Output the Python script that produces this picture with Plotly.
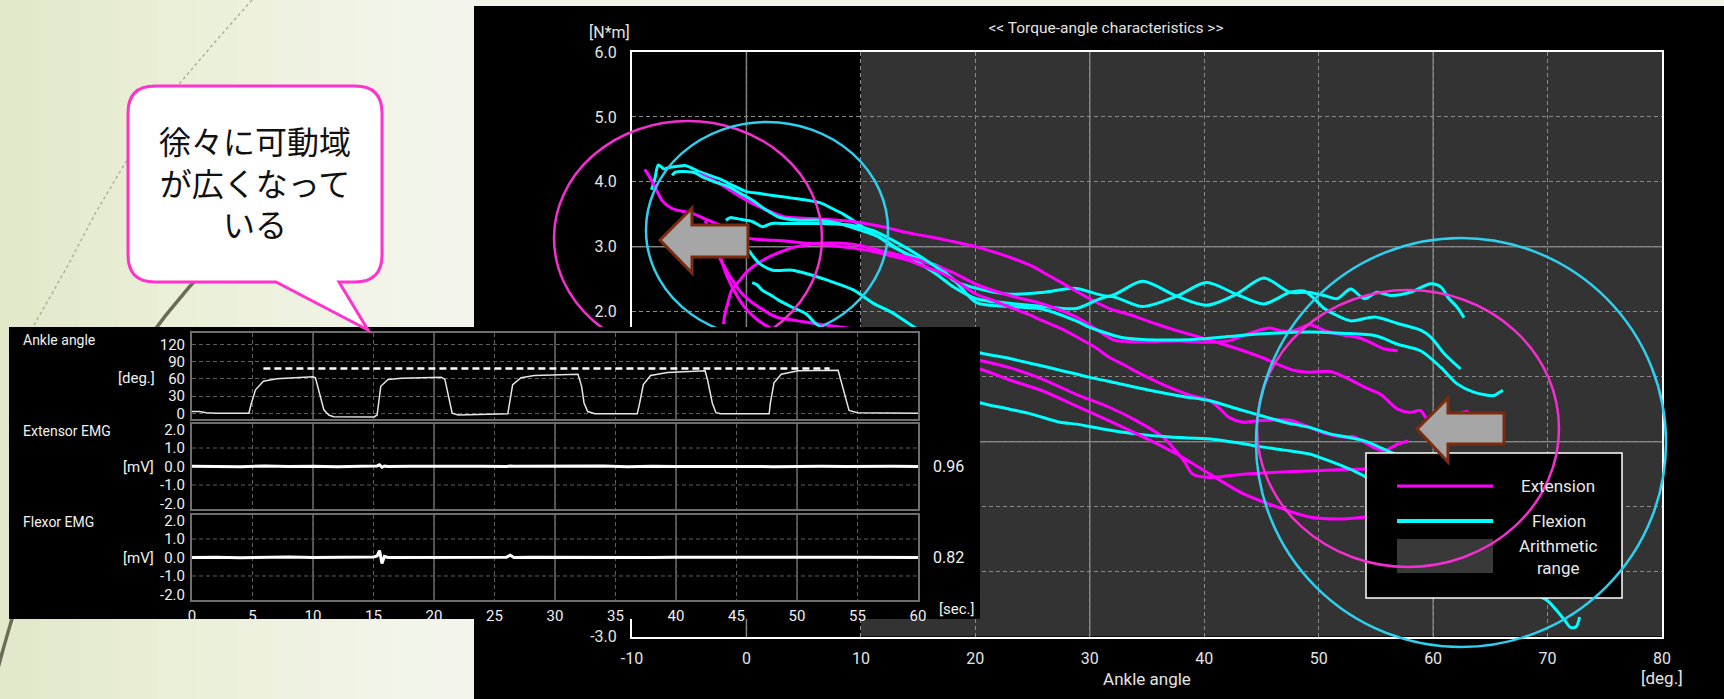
import plotly.graph_objects as go

W, H = 1724, 699

# ---------------- Torque-angle characteristics (main chart) ----------------
x_ticks = [-10, 0, 10, 20, 30, 40, 50, 60, 70, 80]
x_tick_text = ["-10", "0", "10", "20", "30", "40", "50", "60", "70", "80"]
y_ticks = [-3, -2, -1, 0, 1, 2, 3, 4, 5, 6]
y_tick_text = ["-3.0", "-2.0", "-1.0", "0.0", "1.0", "2.0", "3.0", "4.0", "5.0", "6.0"]
arith_range = [10, 80]          # shaded "Arithmetic range" of the ankle angle

# Extension (magenta) trials
ext1_angle = [-4.2, -3.3, -2.4, -1.0, 0.5, 2.0, 3.4, 5.0, 6.3, 8.0,
              9.3, 11.0, 12.2, 14.0, 15.2, 17.0, 18.1, 20.1, 22.0, 23.0,
              25.0, 26.5, 28.0, 30.0, 31.7, 33.6, 34.7, 36.0, 37.6, 39.0,
              40.5, 42.0, 43.4, 45.0, 46.3, 47.8, 49.2, 51.0, 52.2, 54.0,
              55.4, 56.9, 58.0, 58.9, 59.5, 61.0, 63.1]
ext1_torque = [4.13, 4.06, 3.98, 3.82, 3.67, 3.55, 3.46, 3.44, 3.43, 3.41,
               3.39, 3.34, 3.30, 3.22, 3.18, 3.12, 3.08, 3.00, 2.90, 2.84,
               2.70, 2.55, 2.40, 2.20, 2.05, 1.95, 1.88, 1.80, 1.71, 1.64,
               1.56, 1.48, 1.40, 1.30, 1.20, 1.10, 1.07, 1.08, 1.00, 0.84,
               0.73, 0.50, 0.45, 0.48, 0.35, 0.40, 0.47]

ext2_angle = [-2.0, -1.9, -1.6, -1.3, -0.6, -0.1, 0.6, 1.4, 2.4, 3.4,
              4.3, 5.2, 7.0, 9.3, 12.2, 15.2, 18.1, 20.1, 23.0, 25.9,
              28.8, 30.3, 32.2, 34.9, 37.8, 40.5, 42.3, 43.4, 44.5, 45.7,
              46.9, 48.0, 49.2, 50.7, 52.2, 53.5, 54.5, 55.7, 56.9]
ext2_torque = [1.81, 1.95, 2.15, 2.33, 2.48, 2.59, 2.70, 2.79, 2.88, 2.95,
               3.00, 3.03, 3.06, 3.04, 2.92, 2.79, 2.60, 2.42, 2.25, 2.12,
               1.92, 1.76, 1.56, 1.54, 1.55, 1.53, 1.56, 1.63, 1.70, 1.75,
               1.70, 1.72, 1.80, 1.70, 1.64, 1.60, 1.53, 1.43, 1.40]

ext3_angle = [-8.9, -8.6, -8.3, -8.0, -7.4, -6.5, -5.4, -4.5, -3.75, -2.5,
              -1.0, 0.2, 1.5, 3.4, 5.0, 6.3, 8.0, 9.3, 11.0, 12.2,
              14.0, 15.2, 17.0, 18.1, 20.1, 21.5, 23.0, 24.5, 25.9, 27.5,
              29.0, 30.5, 31.7, 33.0, 34.7, 36.4, 38.7, 40.5, 41.4, 42.2,
              43.4, 44.5, 45.7, 47.5, 49.2, 50.7, 52.2, 53.0, 54.0, 54.8,
              55.7, 56.9, 57.8]
ext3_torque = [4.19, 4.12, 4.02, 3.93, 3.72, 3.59, 3.54, 3.50, 3.44, 3.35,
               3.22, 3.13, 3.11, 3.09, 3.06, 3.04, 3.01, 2.98, 2.93, 2.88,
               2.80, 2.72, 2.60, 2.50, 2.27, 2.18, 2.07, 1.97, 1.86, 1.74,
               1.60, 1.45, 1.30, 1.18, 1.02, 0.88, 0.72, 0.63, 0.50, 0.37,
               0.30, 0.32, 0.33, 0.33, 0.22, 0.12, 0.07, 0.08, -0.01, -0.09,
               -0.14, -0.04, 0.01]

ext4_angle = [-3.6, -3.0, -2.4, -2.0, -1.6, -1.0, -0.4, 0.3, 1.1, 2.6,
              4.5, 6.4, 8.0, 9.9, 12.0, 14.0, 16.0, 18.0, 20.4, 23.0,
              25.9, 28.8, 31.7, 34.1, 36.4, 38.2, 39.0, 40.5, 43.4, 46.3,
              49.2, 52.2, 55.1, 58.0, 60.0]
ext4_torque = [3.40, 3.15, 2.85, 2.72, 2.59, 2.43, 2.28, 2.17, 2.07, 1.92,
               1.86, 1.81, 1.77, 1.72, 1.62, 1.52, 1.42, 1.33, 1.25, 1.14,
               0.96, 0.73, 0.53, 0.32, 0.07, -0.29, -0.50, -0.55, -0.50, -0.47,
               -0.45, -0.43, -0.42, -0.40, -0.38]

ext5_angle = [-3.0, -2.6, -2.2, -1.7, -1.0, -0.2, 0.8, 2.0, 4.0, 7.0,
              10.0, 13.0, 16.0, 18.5, 20.4, 23.0, 25.9, 28.8, 31.7, 34.7,
              37.6, 40.5, 43.4, 46.3, 49.2, 52.2, 54.2, 57.0, 60.0, 62.0]
ext5_torque = [3.30, 3.05, 2.80, 2.55, 2.30, 2.08, 1.90, 1.76, 1.64, 1.52,
               1.43, 1.34, 1.25, 1.18, 1.12, 0.95, 0.78, 0.55, 0.32, 0.07,
               -0.19, -0.50, -0.80, -1.00, -1.16, -1.19, -1.16, -1.14, -1.12, -1.10]

# Flexion (cyan) trials
flex1_angle = [-8.3, -8.0, -7.7, -7.2, -6.8, -6.0, -5.3, -4.0, -2.4, -1.0,
               0.0, 1.2, 2.3, 4.0, 5.2, 6.4, 7.5, 8.5, 9.3, 10.2,
               11.1, 12.0, 12.8, 13.7, 14.6, 15.5, 16.9, 18.1, 20.1, 23.0,
               26.0, 28.8, 31.7, 34.6, 37.6, 40.2, 42.8, 45.2, 47.5, 49.0,
               50.5, 51.6, 52.8, 54.0, 55.1, 56.3, 58.0, 59.8, 60.7, 61.3,
               62.1, 62.7]
flex1_torque = [3.88, 4.05, 4.26, 4.20, 4.22, 4.24, 4.25, 4.15, 4.05, 3.93,
                3.85, 3.82, 3.79, 3.75, 3.72, 3.68, 3.59, 3.50, 3.41, 3.30,
                3.20, 3.10, 3.00, 2.92, 2.85, 2.78, 2.69, 2.48, 2.36, 2.27,
                2.30, 2.36, 2.24, 2.47, 2.24, 2.10, 2.27, 2.52, 2.30, 2.30,
                2.25, 2.20, 2.35, 2.20, 2.30, 2.25, 2.30, 2.43, 2.38, 2.22,
                2.07, 1.91]

flex2_angle = [-6.5, -6.2, -5.5, -4.5, -3.9, -2.8, -1.6, -0.5, 0.5, 1.7,
               2.8, 4.6, 6.4, 8.1, 9.9, 11.6, 13.4, 15.2, 16.9, 18.1,
               20.1, 23.0, 26.0, 28.8, 31.7, 34.6, 37.6, 40.2, 42.8, 45.2,
               47.5, 48.7, 49.5, 50.5, 51.5, 52.8, 54.9, 56.9, 59.0, 59.8,
               61.0, 62.4]
flex2_torque = [4.10, 4.15, 4.16, 4.14, 4.08, 4.00, 3.93, 3.82, 3.72, 3.57,
                3.46, 3.41, 3.41, 3.36, 3.26, 3.15, 2.95, 2.74, 2.54, 2.38,
                2.20, 2.13, 2.08, 2.05, 2.24, 2.08, 2.24, 2.45, 2.27, 2.12,
                2.30, 2.32, 2.22, 2.05, 1.95, 1.86, 1.92, 1.82, 1.71, 1.61,
                1.35, 1.12]

flex3_angle = [-1.8, -1.4, -1.0, -0.4, 0.5, 1.4, 2.2, 3.0, 4.0, 5.2,
               6.4, 7.8, 9.3, 11.1, 12.8, 14.0, 15.2, 16.9, 18.1, 20.1,
               23.0, 25.9, 28.8, 30.0, 31.5, 32.9, 35.0, 38.7, 41.0, 43.4,
               46.0, 49.2, 52.0, 55.0, 56.9, 58.9, 60.7, 62.1, 63.6, 65.3,
               65.8, 66.1]
flex3_torque = [3.41, 3.45, 3.44, 3.42, 3.39, 3.31, 3.36, 3.36, 3.36, 3.36,
                3.36, 3.35, 3.33, 3.25, 3.10, 2.98, 2.85, 2.65, 2.50, 2.14,
                2.08, 2.04, 1.86, 1.76, 1.67, 1.60, 1.57, 1.57, 1.60, 1.64,
                1.67, 1.69, 1.67, 1.63, 1.50, 1.40, 1.14, 0.89, 0.76, 0.71,
                0.76, 0.79]

flex4_angle = [0.2, 0.6, 1.1, 2.3, 4.0, 5.2, 7.0, 9.3, 11.1, 12.8,
               14.6, 16.5, 18.5, 20.4, 23.0, 25.0, 27.4, 30.0, 31.6, 35.0,
               38.0, 40.5, 43.0, 45.0, 47.0, 49.2, 51.0, 52.8, 54.2, 55.5,
               58.0, 61.0, 64.0]
flex4_torque = [2.95, 2.85, 2.75, 2.64, 2.64, 2.59, 2.49, 2.34, 2.13, 1.98,
                1.77, 1.60, 1.47, 1.37, 1.28, 1.20, 1.10, 0.99, 0.93, 0.80,
                0.70, 0.63, 0.50, 0.40, 0.30, 0.22, 0.12, 0.06, 0.00, -0.10,
                -0.30, -0.55, -0.80]

flex5_angle = [0.5, 0.9, 1.4, 2.1, 2.8, 4.0, 5.2, 6.1, 7.5, 10.0,
               12.5, 15.0, 17.5, 20.4, 23.0, 25.0, 27.4, 28.8, 31.0, 34.0,
               37.0, 40.5, 43.0, 45.0, 47.0, 49.2, 50.5, 52.0, 53.2, 54.2,
               56.0, 60.0, 64.0, 67.0, 69.0, 70.0, 70.8, 71.5, 72.0, 72.5,
               72.8]
flex5_torque = [2.45, 2.42, 2.33, 2.26, 2.18, 2.07, 1.97, 1.81, 1.68, 1.45,
                1.20, 0.98, 0.78, 0.60, 0.50, 0.42, 0.30, 0.27, 0.20, 0.12,
                0.07, 0.04, -0.02, -0.08, -0.13, -0.19, -0.27, -0.37, -0.46, -0.55,
                -0.75, -1.25, -1.75, -2.10, -2.35, -2.45, -2.60, -2.75, -2.86, -2.85,
                -2.70]

# ---------------- Inset: time series ----------------
sec_ticks = [0, 5, 10, 15, 20, 25, 30, 35, 40, 45, 50, 55, 60]
deg_ticks = [0, 30, 60, 90, 120]
mv_ticks = [-2, -1, 0, 1, 2]
mv_tick_text = ["-2.0", "-1.0", "0.0", "1.0", "2.0"]
mv_grid = [-1, 1]

ang_time = [0, 0.6, 1.2, 2.0, 4.7, 4.9, 5.25, 5.9, 7.0, 9.0, 10.0, 10.2, 10.6, 10.9,
            11.3, 11.7, 15.05, 15.3, 15.6, 16.2, 17.3, 20.6, 20.9, 21.3,
            21.5, 22.0, 25.0, 26.1, 26.2, 26.5, 27.2, 28.3, 31.9, 32.2,
            32.4, 32.7, 33.3, 36.8, 37.0, 37.3, 37.9, 39.3, 42.4, 42.6,
            43.0, 43.3, 43.7, 47.7, 47.8, 48.1, 48.7, 50.1, 53.4, 53.6,
            54.1, 54.3, 55.0, 60.0]
ang_deg = [3, 3, 1, 0, 0, 17, 41, 56, 60, 62, 63.5, 62, 29, 6,
           -3, -6, -6.5, -3, 47, 59, 61, 63, 59, 18,
           0, -3, -2, -1, 12, 50, 62, 66, 68, 47,
           18, 3, -1, -1, 18, 50, 66, 71, 74, 59,
           18, 1, -1, -1, 18, 53, 68, 74, 75, 59,
           18, 5, 1, 0]
target_time = [5.9, 52.7]
target_deg = [78, 78]

emg_time = [0, 2, 4, 6, 8, 10, 12, 14, 15, 15.3, 15.5, 15.7, 15.9, 16.2, 18, 20, 22, 24, 26,
            26.3, 26.6, 28, 30, 32, 34, 36, 38, 40, 42, 44, 46, 48, 50, 52, 54, 56, 58, 60]
extensor_mv = [0.02, 0.01, -0.01, 0.03, 0.0, 0.02, -0.02, 0.01, 0.0, 0.03,
               0.09, -0.04, 0.02, 0.0, 0.01, 0.02, -0.01, 0.02, 0.0, 0.03,
               0.01, 0.02, 0.0, 0.01, 0.03, -0.01, 0.02, 0.0, 0.01, 0.02,
               0.0, -0.01, 0.02, 0.01, 0.0, 0.02, 0.01, 0.0]
flexor_mv = [0.0, 0.02, -0.02, 0.01, 0.03, 0.0, 0.01, 0.02, 0.03, 0.08,
             0.38, -0.32, 0.06, 0.0, 0.01, 0.02, 0.0, 0.01, 0.02, 0.12,
             0.0, 0.02, 0.01, 0.0, 0.02, 0.01, 0.0, 0.02, 0.01, 0.0,
             0.01, 0.02, 0.0, 0.01, 0.02, 0.0, 0.01, 0.0]
extensor_ratio = "0.96"
flexor_ratio = "0.82"

# ---------------- styling ----------------
MAG, CYA = "#ff00ff", "#00ffff"
RING_MAG, RING_CYA = "#f52ed2", "#2ecfef"
FONT = "Roboto, Liberation Sans, sans-serif"
TXT = "#e4e4e4"
MV_RANGE = [-2.3, 2.3]

def px(x):
    return x / W

def py(y):
    return 1 - y / H

fig = go.Figure()

def line_trace(xs, ys, color, width, xa="x", ya="y", dash=None, shape="linear"):
    fig.add_trace(go.Scatter(x=xs, y=ys, mode="lines", xaxis=xa, yaxis=ya,
                             line=dict(color=color, width=width, dash=dash, shape=shape,
                                       smoothing=0.8 if shape == "spline" else None),
                             hoverinfo="skip", showlegend=False))

# main chart curves
pairs = [
    (flex1_angle, flex1_torque, CYA), (ext1_angle, ext1_torque, MAG),
    (flex2_angle, flex2_torque, CYA), (ext2_angle, ext2_torque, MAG),
    (flex3_angle, flex3_torque, CYA), (ext3_angle, ext3_torque, MAG),
    (flex4_angle, flex4_torque, CYA), (ext4_angle, ext4_torque, MAG),
    (flex5_angle, flex5_torque, CYA), (ext5_angle, ext5_torque, MAG),
]
for xs, ys, c in pairs:
    line_trace(xs, ys, c, 3, shape="spline")

# canvas + inset background placeholders
fig.add_trace(go.Scatter(x=[-50], y=[-50], mode="markers", xaxis="x2", yaxis="y2",
                         hoverinfo="skip", showlegend=False))
fig.add_trace(go.Scatter(x=[-5], y=[-5], mode="markers", xaxis="x3", yaxis="y3",
                         hoverinfo="skip", showlegend=False))

# inset traces
line_trace(ang_time, ang_deg, "#e6e6e6", 1.5, "x4", "y4")
line_trace(target_time, target_deg, "#ffffff", 2.5, "x4", "y4", dash="7px,4px")
line_trace(emg_time, extensor_mv, "#ffffff", 3, "x5", "y5")
line_trace(emg_time, flexor_mv, "#ffffff", 3, "x6", "y6")

# ---------------- layout / axes ----------------
main_x_dom = [px(632), px(1662)]
main_y_dom = [py(636.5), py(52)]
ins_x_dom = [px(192), px(918)]
p1_dom = [py(419), py(333)]
p2_dom = [py(509), py(424)]
p3_dom = [py(600), py(515)]

main_axis_common = dict(showgrid=True, gridcolor="#8a8a8a", gridwidth=1, griddash="4px,3px",
                        showline=True, linecolor="#ffffff", linewidth=2, mirror=True,
                        zeroline=False, ticks="", automargin=False, fixedrange=True,
                        tickfont=dict(family=FONT, size=16, color=TXT))
inset_axis_common = dict(gridcolor="#5e5e5e", gridwidth=1, griddash="4px,3px",
                         showline=True, linecolor="#6e6e6e", linewidth=2, mirror=True,
                         zeroline=False, ticks="", automargin=False, fixedrange=True,
                         tickfont=dict(family=FONT, size=15, color="#f0f0f0"))

fig.update_layout(
    width=W, height=H, template="none",
    margin=dict(l=0, r=0, t=0, b=0, pad=0),
    paper_bgcolor="#f2f4e8", plot_bgcolor="rgba(0,0,0,0)",
    showlegend=False, hovermode=False,
    font=dict(family=FONT, color=TXT),
    title=dict(text="&lt;&lt; Torque-angle characteristics &gt;&gt;", x=px(1106), y=py(28),
               xref="paper", yref="paper", xanchor="center", yanchor="middle",
               font=dict(family=FONT, size=15.5, color=TXT)),
    xaxis=dict(domain=main_x_dom, range=[-10, 80], anchor="y", tickmode="array",
               tickvals=x_ticks, ticktext=x_tick_text, ticklabelstandoff=6,
               title=dict(text="Ankle angle", standoff=6, font=dict(family=FONT, size=17, color=TXT)),
               **main_axis_common),
    yaxis=dict(domain=main_y_dom, range=[-3, 6], anchor="x", tickmode="array",
               tickvals=y_ticks, ticktext=y_tick_text, ticklabelstandoff=10, **main_axis_common),
    xaxis2=dict(domain=[0, 1], range=[0, W], anchor="y2", visible=False, fixedrange=True),
    yaxis2=dict(domain=[0, 1], range=[H, 0], anchor="x2", visible=False, fixedrange=True),
    xaxis3=dict(domain=[px(9), px(980)], range=[0, 1], anchor="y3", visible=False, fixedrange=True),
    yaxis3=dict(domain=[py(619), py(327)], range=[0, 1], anchor="x3", visible=False, fixedrange=True),
    xaxis4=dict(domain=ins_x_dom, range=[0, 60], anchor="y4", tickmode="array", showgrid=True,
                tickvals=sec_ticks, showticklabels=False, **inset_axis_common),
    yaxis4=dict(domain=p1_dom, range=[-10, 140], anchor="x4", tickmode="array", showgrid=True,
                tickvals=deg_ticks, ticklabelstandoff=2, **inset_axis_common),
    xaxis5=dict(domain=ins_x_dom, range=[0, 60], anchor="y5", tickmode="array", showgrid=True,
                tickvals=sec_ticks, showticklabels=False, **inset_axis_common),
    yaxis5=dict(domain=p2_dom, range=MV_RANGE, anchor="x5", tickmode="array", showgrid=False,
                tickvals=mv_ticks, ticktext=mv_tick_text, ticklabelstandoff=2, **inset_axis_common),
    xaxis6=dict(domain=ins_x_dom, range=[0, 60], anchor="y6", tickmode="array", showgrid=True,
                tickvals=sec_ticks, ticklabelstandoff=1, **inset_axis_common),
    yaxis6=dict(domain=p3_dom, range=MV_RANGE, anchor="x6", tickmode="array", showgrid=False,
                tickvals=mv_ticks, ticktext=mv_tick_text, ticklabelstandoff=2, **inset_axis_common),
)

shapes = []
# slide background (soft horizontal gradient) and the black instrument panel
bg_cols = ["#e2e9ca", "#e4eacd", "#e6ecd1", "#e8edd4", "#eaefd8", "#ebf0db",
           "#edf1de", "#eef2e1", "#f0f3e4", "#f1f4e7", "#f2f5ea", "#f3f5ec"]
strip = 474 / len(bg_cols)
for i, c in enumerate(bg_cols):
    shapes.append(dict(type="rect", xref="paper", yref="paper", layer="below",
                       x0=px(i * strip), x1=px((i + 1) * strip + 1), y0=0, y1=1,
                       fillcolor=c, line=dict(width=0)))
shapes.append(dict(type="rect", xref="paper", yref="paper", layer="below",
                   x0=px(474), x1=1, y0=0, y1=py(6), fillcolor="#000000", line=dict(width=0)))

# main plot: shaded arithmetic range and solid reference grid lines
shapes.append(dict(type="rect", xref="x", yref="y", layer="below",
                   x0=arith_range[0], x1=arith_range[1], y0=-3, y1=6,
                   fillcolor="#333333", line=dict(width=0)))
for gx in [0, 30, 60]:
    shapes.append(dict(type="line", xref="x", yref="y", layer="below", x0=gx, x1=gx, y0=-3, y1=6,
                       line=dict(color="#7c7c7c", width=1.5)))
for gy in [3, 0]:
    shapes.append(dict(type="line", xref="x", yref="y", layer="below", x0=-10, x1=80, y0=gy, y1=gy,
                       line=dict(color="#7c7c7c", width=1.5)))

# inset black panel
shapes.append(dict(type="rect", xref="x3", yref="y3", layer="below", x0=0, x1=1, y0=0, y1=1,
                   fillcolor="#000000", line=dict(width=0)))
# inset grid: solid every 10 s, dashed +-1 mV
for xa, ya, lo, hi in [("x4", "y4", -10, 140), ("x5", "y5", MV_RANGE[0], MV_RANGE[1]),
                       ("x6", "y6", MV_RANGE[0], MV_RANGE[1])]:
    for gx in [10, 20, 30, 40, 50]:
        shapes.append(dict(type="line", xref=xa, yref=ya, layer="below", x0=gx, x1=gx, y0=lo, y1=hi,
                           line=dict(color="#6a6a6a", width=1.5)))
for xa, ya in [("x5", "y5"), ("x6", "y6")]:
    for gy in mv_grid:
        shapes.append(dict(type="line", xref=xa, yref=ya, layer="below", x0=0, x1=60, y0=gy, y1=gy,
                           line=dict(color="#5e5e5e", width=1, dash="4px,3px")))

C = dict(xref="x2", yref="y2", layer="below")
# decorative slide lines
shapes.append(dict(type="path", path="M 252,0 L 215,42 L 180,83 L 152,122 L 127,160 L 96,212 L 67,267 L 33,327 L 15,362",
                   line=dict(color="#aeb09c", width=1.5, dash="dot"), **C))
shapes.append(dict(type="path", path="M 214,260 Q 60,420 -5,680",
                   line=dict(color="#6d6a57", width=3.5), **C))
# legend box
shapes.append(dict(type="rect", x0=1366, x1=1622, y0=453, y1=598, fillcolor="#000000",
                   line=dict(color="#ffffff", width=1.5), **C))
shapes.append(dict(type="line", x0=1397, x1=1493, y0=486, y1=486, line=dict(color=MAG, width=3), **C))
shapes.append(dict(type="line", x0=1397, x1=1493, y0=521, y1=521, line=dict(color=CYA, width=4), **C))
shapes.append(dict(type="rect", x0=1397, x1=1493, y0=539, y1=573, fillcolor="#393939",
                   line=dict(width=0), **C))
# highlight rings
for (x0, x1, y0, y1, col) in [(554, 822, 121, 355, RING_MAG), (646, 888, 122, 338, RING_CYA),
                              (1257, 1559, 290, 567, RING_MAG), (1256, 1666, 238, 647, RING_CYA)]:
    shapes.append(dict(type="circle", x0=x0, x1=x1, y0=y0, y1=y1,
                       line=dict(color=col, width=2.5), **C))
# block arrows
for p in ["M 660,240 L 692,208 L 692,225 L 748,225 L 748,257 L 692,257 L 692,273 Z",
          "M 1417,429 L 1448,398 L 1448,413 L 1504,413 L 1504,444 L 1448,444 L 1448,462 Z"]:
    shapes.append(dict(type="path", path=p, fillcolor="#a6a6a6",
                       line=dict(color="#7b2c10", width=3), **C))
# speech bubble
shapes.append(dict(type="path", xref="x2", yref="y2", layer="above",
                   path=("M 155,86 L 355,86 Q 382,86 382,113 L 382,255 Q 382,282 355,282 "
                         "L 339,282 L 368,330 L 276,282 L 155,282 Q 128,282 128,255 "
                         "L 128,113 Q 128,86 155,86 Z"),
                   fillcolor="#ffffff", line=dict(color="#ff33cc", width=3)))
fig.update_layout(shapes=shapes)

def note(text, x, y, size=15, color="#f0f0f0", xanchor="center", family=FONT):
    fig.add_annotation(text=text, x=x, y=y, xref="x2", yref="y2", showarrow=False,
                       xanchor=xanchor, yanchor="middle",
                       font=dict(family=family, size=size, color=color))

note("[N*m]", 609, 32, size=16, color=TXT)
note("[deg.]", 1662, 678, size=17, color=TXT)
note("Extension", 1558, 486, size=17, color="#e8e8e8")
note("Flexion", 1559, 521, size=17, color="#e8e8e8")
note("Arithmetic<br>range", 1558, 557, size=17, color="#e8e8e8")
note("Ankle angle", 21, 340, size=14, xanchor="left")
note("[deg.]", 157, 378, xanchor="right")
note("Extensor EMG", 21, 431, size=14, xanchor="left")
note("[mV]", 156, 467, xanchor="right")
note("Flexor EMG", 21, 522, size=14, xanchor="left")
note("[mV]", 156, 558, xanchor="right")
note(extensor_ratio, 948, 466, size=16)
note(flexor_ratio, 948, 557, size=16)
note("[sec.]", 956, 609)
note("徐々に可動域<br>が広くなって<br>いる", 255, 181, size=32, color="#111111",
     family="Noto Sans CJK JP, Noto Sans CJK SC, sans-serif")

fig.write_html("out.html", include_plotlyjs=True, config={"displayModeBar": False, "staticPlot": True})
